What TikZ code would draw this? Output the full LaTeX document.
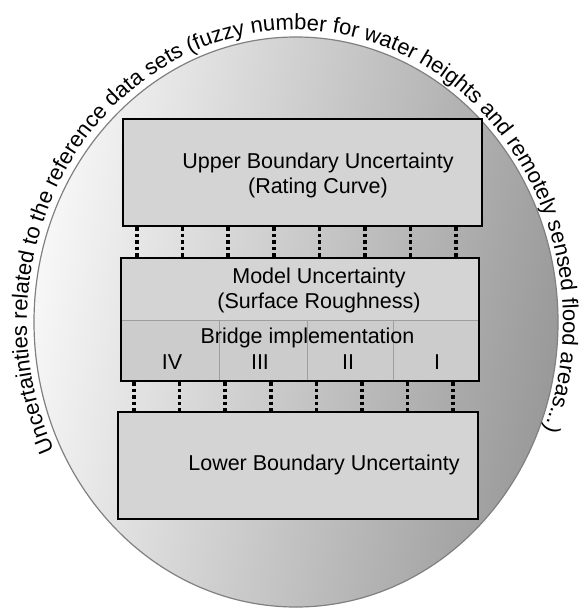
\documentclass[tikz,border=0pt]{standalone}
\usepackage{fontspec}
\setmainfont{Liberation Sans}
\usetikzlibrary{decorations.text,calc}
\definecolor{elight}{gray}{0.97}
\definecolor{edark}{gray}{0.6}
\definecolor{eedge}{gray}{0.5}
\definecolor{boxfill}{gray}{0.83}
\definecolor{rowfill}{gray}{0.8}
\definecolor{divgray}{gray}{0.62}
\newcommand\lblfont{\fontsize{21.5}{25}\selectfont}
\newcommand\arcfont{\fontsize{22}{25}\selectfont}
\begin{document}
\begin{tikzpicture}[x=1pt,y=1pt,
  boxnode/.style={rectangle, inner sep=0pt, outer sep=0pt, fill=boxfill, draw=black, line width=1.6pt},
  txt/.style={inner sep=0pt, font=\lblfont, align=center},
  dotline/.style={line width=3.5pt, dash pattern=on 3.5pt off 3pt, black},
  divline/.style={line width=0.8pt, divgray},
  border/.style={draw=black, line width=1.6pt}]
\useasboundingbox (0,0) rectangle (582,-610);
% oval
\path[left color=elight, right color=edark, shading angle=80, draw=eedge, line width=1.2pt]
  (296,-322) ellipse [x radius=262, y radius=285];
% text along the oval
\path[decorate, decoration={text along path, text align=left,
  text={|\arcfont|Uncertainties related to the reference data sets (fuzzy number for water heights and remotely sensed flood areas...)}}]
  ($(295,-322)+(206:268 and 292)$) arc[start angle=206, end angle=-40, x radius=268, y radius=292];
% boxes (placed first for anchors)
\node[boxnode, minimum width=359pt, minimum height=107pt] (up) at (302.5,-172.5) {};
\node[boxnode, draw=none, minimum width=358pt, minimum height=123pt] (mid) at (300,-319.5) {};
\node[boxnode, minimum width=360pt, minimum height=107pt] (low) at (298,-465.5) {};
% dotted links
\foreach \i in {0,...,7} {
  \coordinate (ua\i) at ($(up.south west)+(14+45.6*\i,-1)$);
  \draw[dotline] (ua\i) -- (ua\i |- mid.north);
  \coordinate (la\i) at ($(mid.south west)+(13+45.6*\i,-1)$);
  \draw[dotline] (la\i) -- (la\i |- low.north);
}
% middle box details
\coordinate (hdiv) at (0,-320);
\fill[rowfill] (mid.south west) rectangle (mid.east |- hdiv);
\draw[divline] (mid.west |- hdiv) -- (mid.east |- hdiv);
\foreach \x in {219,307,393} {
  \coordinate (v\x) at (\x,-320);
  \draw[divline] (v\x) -- (v\x |- mid.south);
}
\draw[border] (mid.south west) rectangle (mid.north east);
% texts
\node[txt] (uptext) at (318,-175) {Upper Boundary Uncertainty\\(Rating Curve)};
\node[txt] (midtext) at (319,-290) {Model Uncertainty\\(Surface Roughness)};
\node[txt] (bridge) at (307.5,-338) {Bridge implementation};
\node[txt] (n4) at (172,-362) {IV};
\node[txt] (n3) at (260,-362) {III};
\node[txt] (n2) at (348,-362) {II};
\node[txt] (n1) at (437,-362) {I};
\node[txt] (lowtext) at (324,-465) {Lower Boundary Uncertainty};
\end{tikzpicture}
\end{document}
